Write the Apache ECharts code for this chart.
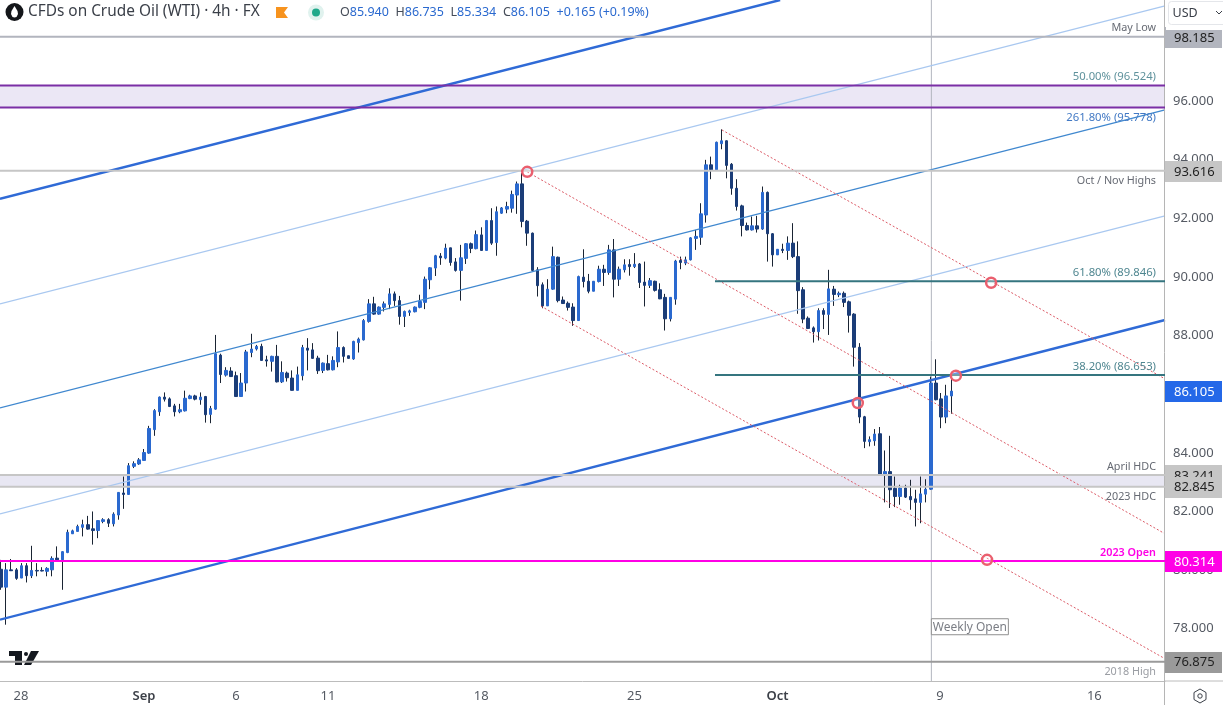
<!DOCTYPE html>
<html>
<head>
<meta charset="utf-8">
<title>CFDs on Crude Oil (WTI)</title>
<script src="https://cdn.jsdelivr.net/npm/echarts@6/dist/echarts.min.js"></script>
<style>
  html, body { margin: 0; padding: 0; background: #fff; }
  #chart { width: 1223px; height: 705px; }
</style>
</head>
<body>
<div id="chart"></div>
<script>
// 4h bars: open, close, low, high
const candles = [
  [80.03,79.42,79.33,80.35],[79.42,80.01,78.14,80.24],[80.01,79.98,79.97,80.38],[80.01,79.72,79.67,80.07],
  [79.73,80.15,79.73,80.24],[80.15,79.81,79.58,80.24],[79.81,79.99,79.73,80.83],[79.99,79.97,79.79,80.24],
  [79.99,79.97,79.96,80.10],[79.96,80.06,79.79,80.10],[80.01,80.40,79.79,80.47],[80.41,80.35,80.35,80.81],
  [80.35,80.63,79.33,80.64],[80.60,81.29,80.58,81.38],[81.24,81.34,81.24,81.38],[81.32,81.49,81.32,81.55],
  [81.46,81.55,81.15,81.72],[81.55,81.40,81.38,81.85],[81.41,81.35,80.87,82.00],[81.35,81.69,81.09,81.69],
  [81.66,81.72,81.60,81.77],[81.72,81.60,81.47,81.77],[81.58,81.91,81.49,81.97],[81.88,82.65,81.72,82.66],
  [82.63,82.58,82.09,83.19],[82.58,83.56,82.57,83.65],[83.54,83.63,83.48,83.71],[83.62,83.76,83.59,83.82],
  [83.74,84.01,83.74,84.13],[83.99,84.83,83.97,84.92],[84.79,85.44,84.58,85.49],[85.40,85.90,85.26,85.92],
  [85.90,85.83,85.75,86.06],[85.84,85.58,85.56,85.89],[85.60,85.40,85.24,85.67],[85.40,85.47,85.35,85.67],
  [85.43,85.86,85.41,86.12],[85.85,85.94,85.83,85.98],[85.94,85.83,85.79,85.98],[85.81,85.90,85.64,86.06],
  [85.92,85.30,85.03,85.94],[85.31,85.51,85.01,85.60],[85.49,87.38,85.47,88.02],[87.33,86.67,86.38,87.38],
  [86.65,86.81,86.60,86.92],[86.79,86.60,86.60,86.92],[86.63,85.92,85.92,86.77],[85.92,86.38,85.92,86.72],
  [86.38,87.44,86.09,87.51],[87.42,87.54,87.26,88.06],[87.54,87.63,87.49,87.68],[87.63,87.15,87.15,87.72],
  [87.17,87.13,86.94,87.31],[87.12,87.29,86.77,87.31],[87.29,86.42,86.40,87.68],[86.42,86.74,86.38,87.12],
  [86.72,86.56,86.43,86.77],[86.55,86.13,86.13,86.81],[86.13,86.66,86.13,86.94],[86.63,87.59,86.47,87.68],
  [87.57,87.50,86.81,87.91],[87.51,87.22,87.22,87.74],[87.23,86.80,86.69,87.31],[86.81,87.06,86.72,87.08],
  [87.04,86.83,86.81,87.34],[86.83,87.15,86.81,87.29],[87.10,87.59,86.92,88.14],[87.59,87.29,87.08,87.63],
  [87.31,87.22,87.22,87.31],[87.20,87.80,87.17,87.82],[87.76,87.88,87.42,87.93],[87.85,88.51,87.83,88.56],
  [88.48,89.08,88.44,89.24],[89.08,88.73,88.71,89.32],[88.73,88.97,88.71,88.99],[88.96,89.08,88.82,89.16],
  [89.06,89.42,88.90,89.61],[89.42,89.19,89.01,89.50],[89.19,88.65,88.37,89.35],[88.65,88.82,88.29,88.85],
  [88.79,88.84,88.67,88.88],[88.81,88.97,88.79,88.99],[88.96,89.16,88.93,89.39],[89.13,89.92,88.90,90.01],
  [89.90,90.31,89.58,90.33],[90.30,90.72,90.03,90.75],[90.71,90.65,90.41,90.81],[90.64,90.98,90.60,91.13],
  [90.99,90.49,90.38,90.99],[90.51,90.22,90.18,90.64],[90.22,90.65,89.19,91.09],[90.63,91.13,90.44,91.15],
  [91.13,90.97,90.81,91.17],[90.96,91.44,90.94,91.58],[91.43,90.90,90.89,91.69],[90.90,91.92,90.89,91.94],
  [91.92,91.15,91.09,92.34],[91.17,92.22,90.72,92.40],[92.17,92.35,92.15,92.38],[92.31,92.40,92.17,92.56],
  [92.34,92.81,92.19,92.94],[92.79,93.17,92.15,93.25],[93.17,91.89,91.69,93.54],[91.90,91.49,91.06,91.94],
  [91.49,90.22,90.20,91.51],[90.24,89.70,89.33,90.33],[89.73,89.01,88.93,89.81],[89.01,89.58,89.01,89.92],
  [89.58,90.69,89.56,91.03],[90.67,89.19,89.13,90.69],[89.21,89.09,89.08,89.33],[89.10,88.96,88.85,89.16],
  [88.97,88.51,88.33,89.10],[88.51,90.01,88.50,90.04],[89.99,89.84,89.64,90.94],[89.85,89.51,89.44,90.10],
  [89.51,89.85,89.51,89.85],[89.84,90.26,89.81,90.38],[90.26,90.15,89.69,90.41],[90.15,90.92,90.07,91.09],
  [90.92,89.92,89.30,91.29],[89.92,90.26,89.69,90.35],[90.24,90.41,90.15,90.60],[90.42,90.35,90.04,90.60],
  [90.35,90.43,90.30,90.81],[90.44,89.81,89.62,90.47],[89.82,89.71,88.99,90.52],[89.71,89.87,89.62,89.96],
  [89.85,89.54,89.50,89.87],[89.56,89.25,89.24,89.78],[89.30,88.57,88.17,89.42],[88.57,89.30,88.48,89.30],
  [89.24,90.54,89.05,90.58],[90.56,90.49,90.26,90.69],[90.47,90.58,90.40,90.69],[90.58,91.33,90.56,91.35],
  [91.31,91.38,90.92,91.60],[91.35,92.15,91.09,92.51],[92.11,93.82,91.85,93.99],[93.82,93.65,93.33,94.10],
  [93.65,94.59,93.65,94.61],[94.54,94.64,94.35,95.03],[94.64,93.80,93.36,94.65],[93.84,93.02,92.80,93.88],
  [93.02,92.40,92.26,93.33],[92.42,91.75,91.38,92.46],[91.75,91.60,91.58,91.85],[91.60,91.74,91.58,92.06],
  [91.74,91.63,91.51,92.08],[91.63,92.88,91.60,93.08],[92.88,91.47,90.52,92.91],[91.47,90.75,90.35,91.49],
  [90.75,90.94,90.75,90.94],[90.94,90.90,90.81,91.13],[90.90,91.15,90.58,91.38],[91.15,90.69,90.64,91.83],
  [90.69,89.53,88.74,91.21],[89.56,88.56,88.42,89.65],[88.59,88.24,88.22,88.65],[88.26,88.13,87.76,88.31],
  [88.13,88.85,87.83,88.93],[88.85,88.72,88.22,88.93],[88.72,89.59,88.02,90.24],[89.58,89.40,89.01,89.69],
  [89.39,89.44,89.31,89.50],[89.44,89.13,88.97,89.50],[89.15,88.69,88.10,89.19],[88.73,87.60,86.94,88.76],
  [87.60,85.22,85.01,87.74],[85.23,84.39,84.16,85.26],[84.38,84.45,84.22,84.56],[84.41,84.64,84.24,84.81],
  [84.65,83.25,83.25,84.88],[83.25,83.36,82.31,84.08],[83.36,82.74,82.12,84.58],[82.79,82.51,82.15,83.19],
  [82.51,82.80,82.23,82.91],[82.80,82.49,82.46,82.91],[82.51,82.40,82.06,83.08],[82.43,82.31,81.49,82.74],
  [82.31,82.60,81.60,83.19],[82.59,82.76,82.31,83.10],[82.76,86.38,82.74,86.60],[86.38,85.81,85.79,87.19],
  [85.84,85.22,84.84,86.04],[85.22,85.94,85.01,86.32],[85.94,86.105,85.334,86.735]
];

const xTickValues = [3.9, 28, 46, 64, 94, 124, 152, 183.8, 214];
const xTickLabels = ['28', 'Sep', '6', '11', '18', '25', 'Oct', '9', '16'];
const yTickValues = [78, 80, 82, 84, 86, 88, 90, 92, 94, 96];

// horizontal levels
const levelValues = [98.185, 96.524, 95.778, 93.616, 89.846, 86.653, 83.241, 82.845, 80.314, 76.875];
const levelStarts = [null, null, null, null, 139.75, 139.75, null, null, null, null];
const levelColors = ['#b2b5be', '#7b2fa5', '#7b2fa5', '#c6c6c6', '#35757f', '#35757f', '#c6c6c6', '#c6c6c6', '#ff00e6', '#9a9a9a'];

const noteAnchors = [98.185, 96.524, 95.778, 93.616, 89.846, 86.653, 83.241, 82.845, 80.314, 76.875];
const noteTexts = ['May Low', '50.00% (96.524)', '261.80% (95.778)', 'Oct / Nov Highs', '61.80% (89.846)', '38.20% (86.653)', 'April HDC', '2023 HDC', '2023 Open', '2018 High'];
const noteSides = [-1, -1, 1, 1, -1, -1, -1, 1, -1, 1];
const noteColors = ['#666a73', '#5f929c', '#4279c4', '#666a73', '#4f8690', '#4f8690', '#666a73', '#666a73', '#ff00e6', '#9a9da3'];
const noteSizes = [10.8, 11.3, 11.3, 10.8, 11.3, 11.3, 10.8, 10.8, 10.8, 10.8];

const tagValues = [98.185, 93.616, 83.241, 82.845, 86.105, 80.314, 76.875];
const tagFills = ['#b2b5be', '#c6c6c6', '#c6c6c6', '#c6c6c6', '#2468e8', '#ff00e6', '#9a9a9a'];
const tagInks = ['#222', '#222', '#222', '#222', '#fff', '#fff', '#222'];

const zones = [[96.524, 95.778, '#ebe7f5'], [83.241, 82.845, '#e8e7f3']];

// channel lines, [bar index, price] end points
const channelLines = [
  { pts: [[-0.2, 92.66], [152.5, 99.44]], color: '#2f6ad6', width: 2.4 },
  { pts: [[-0.2, 89.08], [227.83, 99.24]], color: '#a9c8f0', width: 1.2 },
  { pts: [[-0.2, 85.53], [227.83, 95.69]], color: '#4088cf', width: 1.3 },
  { pts: [[-0.2, 81.92], [227.83, 92.08]], color: '#a9c8f0', width: 1.2 },
  { pts: [[-0.2, 78.31], [227.83, 88.53]], color: '#2f6ad6', width: 2.4 }
];
const pitchLines = [
  [[103, 93.58], [227.83, 81.24]],
  [[141.1, 95.01], [227.83, 86.52]],
  [[105.7, 89.0], [227.83, 76.98]]
];
const touchPoints = [[103, 93.58], [167.7, 85.7], [186.9, 86.63], [193.8, 89.8], [193, 80.35]];

const weeklyOpenBar = 182.1;
const weeklyOpenPrice = 78.07;

const xMin = -0.196, xMax = 227.83;
const yMin = 76.22, yMax = 99.44;
const fontName = '"Noto Sans", "Open Sans", sans-serif';
const upColor = '#2a69cf', downColor = '#1b3d78', wickColor = '#1a2433';

const chart = echarts.init(document.getElementById('chart'));

function renderZone(params, api) {
  const z = zones[api.value(0)];
  const a = api.coord([xMin, z[0]]);
  const b = api.coord([xMax, z[1]]);
  return { type: 'rect', shape: { x: a[0], y: a[1], width: b[0] - a[0], height: b[1] - a[1] }, style: { fill: z[2] } };
}

function renderLevel(params, api) {
  const i = api.value(0);
  const start = levelStarts[i] === null ? xMin : levelStarts[i];
  const a = api.coord([start, levelValues[i]]);
  const b = api.coord([xMax, levelValues[i]]);
  return { type: 'line', shape: { x1: a[0], y1: a[1], x2: b[0], y2: b[1] }, style: { stroke: levelColors[i], lineWidth: 2 } };
}

function renderNote(params, api) {
  const i = api.value(0);
  const p = api.coord([xMax, noteAnchors[i]]);
  return {
    type: 'text',
    style: {
      x: p[0] - 9, y: p[1] + (noteSides[i] < 0 ? -8.5 : 10), text: noteTexts[i], align: 'right', verticalAlign: 'middle',
      fill: noteColors[i], font: (i === 8 ? '600 ' : '') + noteSizes[i] + 'px ' + fontName
    }
  };
}

function renderTag(params, api) {
  const i = api.value(0);
  const p = api.coord([xMax, tagValues[i]]);
  return {
    type: 'group',
    children: [
      { type: 'rect', shape: { x: p[0], y: Math.round(p[1]) - 10, width: 57, height: 21 }, style: { fill: tagFills[i] } },
      { type: 'text', style: { x: p[0] + 9, y: p[1] + 1, text: tagValues[i].toFixed(3), verticalAlign: 'middle', fill: tagInks[i], font: '13px ' + fontName } }
    ]
  };
}

function renderWeeklyOpen(params, api) {
  const top = api.coord([weeklyOpenBar, yMax]);
  const bottom = api.coord([weeklyOpenBar, yMin]);
  const box = api.coord([weeklyOpenBar, weeklyOpenPrice]);
  return {
    type: 'group',
    children: [
      { type: 'line', shape: { x1: top[0], y1: top[1], x2: bottom[0], y2: bottom[1] }, style: { stroke: '#b2b5be', lineWidth: 1 } },
      { type: 'rect', shape: { x: box[0], y: box[1] - 8, width: 77, height: 16 }, style: { fill: '#fff', stroke: '#8f8f8f', lineWidth: 1 } },
      { type: 'text', style: { x: box[0] + 38.5, y: box[1] + 0.5, text: 'Weekly Open', align: 'center', verticalAlign: 'middle', fill: '#7b7e85', font: '12px ' + fontName } }
    ]
  };
}

function overlaySeries(count, renderItem, z) {
  const ids = [];
  for (let i = 0; i < count; i++) ids.push([i]);
  return { type: 'custom', renderItem: renderItem, data: ids, z: z, silent: true, encode: { x: -1, y: -1 } };
}

const wickData = candles.map((c, i) => [i, c[0], c[1], c[2], c[3]]);
const bodyData = candles.map((c, i) => [i, c[0], c[1], Math.min(c[0], c[1]), Math.max(c[0], c[1])]);

const series = [
  overlaySeries(zones.length, renderZone, 1),
  overlaySeries(1, renderWeeklyOpen, 1),
  {
    type: 'candlestick', data: wickData, z: 2, barWidth: 1, silent: true, encode: { x: 0, y: [1, 2, 3, 4] },
    itemStyle: { color: wickColor, color0: wickColor, borderColor: wickColor, borderColor0: wickColor, borderWidth: 1 }
  },
  {
    type: 'candlestick', data: bodyData, z: 2, barWidth: 3, silent: true, encode: { x: 0, y: [1, 2, 3, 4] },
    itemStyle: { color: upColor, color0: downColor, borderColor: upColor, borderColor0: downColor, borderWidth: 1 }
  }
];

channelLines.forEach(l => {
  series.push({
    type: 'line', data: l.pts, z: 3, silent: true, showSymbol: false, clip: true,
    lineStyle: { color: l.color, width: l.width }
  });
});
pitchLines.forEach(pts => {
  series.push({
    type: 'line', data: pts, z: 3, silent: true, showSymbol: false, clip: true,
    lineStyle: { color: '#dc5a66', width: 1, type: [2, 2] }
  });
});
series.push(overlaySeries(levelValues.length, renderLevel, 4));
series.push(overlaySeries(noteTexts.length, renderNote, 4));
series.push(overlaySeries(tagValues.length, renderTag, 5));
series.push({
  type: 'scatter', data: touchPoints, z: 6, silent: true, symbol: 'circle', symbolSize: 10,
  itemStyle: { color: 'rgba(255,255,255,0.3)', borderColor: '#ea5f6e', borderWidth: 2.5, opacity: 1 }
});

const headerRich = {
  k: { fill: '#444b57', fontSize: 12.5, fontFamily: fontName },
  v: { fill: '#2a69cf', fontSize: 12.5, fontFamily: fontName }
};

chart.setOption({
  animation: false,
  backgroundColor: '#fff',
  grid: { left: 0, top: 0, width: 1165, height: 681, containLabel: false },
  xAxis: {
    type: 'value', min: xMin, max: xMax, splitLine: { show: false },
    axisLine: { show: true, onZero: false, lineStyle: { color: '#bcbcbc' } }, axisTick: { show: false },
    axisLabel: {
      customValues: xTickValues, margin: 9, fontSize: 13, fontFamily: fontName, color: '#555a63',
      formatter: v => {
        const text = xTickLabels[xTickValues.indexOf(v)];
        return text === 'Sep' || text === 'Oct' ? '{m|' + text + '}' : text;
      },
      rich: { m: { fontSize: 13, fontFamily: fontName, fontWeight: 600, color: '#3c4048' } }
    }
  },
  yAxis: {
    type: 'value', position: 'right', min: yMin, max: yMax, splitLine: { show: false },
    axisLine: { show: false }, axisTick: { show: false },
    axisLabel: {
      customValues: yTickValues, margin: 8, fontSize: 13, fontFamily: fontName, color: '#555a63', padding: [2, 0, 0, 0],
      formatter: v => v.toFixed(3)
    }
  },
  graphic: [
    // price scale border runs the full height, time scale border runs the full width
    { type: 'line', silent: true, z: 4, shape: { x1: 1165, y1: 681, x2: 1223, y2: 681 }, style: { stroke: '#bcbcbc', lineWidth: 1 } },
    { type: 'line', silent: true, z: 4, shape: { x1: 1164.5, y1: 0, x2: 1164.5, y2: 705 }, style: { stroke: '#b5b5b5', lineWidth: 1 } },
    // header
    { type: 'circle', silent: true, shape: { cx: 14.5, cy: 12, r: 9 }, style: { fill: '#14161a' } },
    { type: 'polygon', silent: true, shape: { points: [[14.5, 6], [17.5, 11], [18, 14], [16.5, 17], [14.5, 17.5], [12.5, 17], [11, 14], [11.5, 11]] }, style: { fill: '#fff' } },
    { type: 'text', silent: true, style: { x: 28, y: 12, text: 'CFDs on Crude Oil (WTI) · 4h · FX', verticalAlign: 'middle', fill: '#3a3f48', font: '15.4px ' + fontName } },
    { type: 'polygon', silent: true, shape: { points: [[276, 7], [288, 7], [284, 12.5], [288, 18], [276, 18]] }, style: { fill: '#f7931e' } },
    { type: 'circle', silent: true, shape: { cx: 316, cy: 12.5, r: 8 }, style: { fill: '#e0f2ee' } },
    { type: 'circle', silent: true, shape: { cx: 316, cy: 12.5, r: 4 }, style: { fill: '#1fa88a' } },
    {
      type: 'text', silent: true,
      style: {
        x: 340, y: 12, verticalAlign: 'middle',
        text: '{k|O}{v|85.940}  {k|H}{v|86.735}  {k|L}{v|85.334}  {k|C}{v|86.105}  {v|+0.165 (+0.19%)}',
        rich: headerRich
      }
    },
    // currency box sits over the top of the first price tag
    { type: 'rect', silent: true, z: 10, shape: { x: 1166, y: 0, width: 57, height: 30 }, style: { fill: '#fff' } },
    { type: 'rect', silent: true, z: 10, shape: { x: 1168.5, y: 1.5, width: 60, height: 23, r: 3 }, style: { fill: '#fff', stroke: '#e4e6ea', lineWidth: 1 } },
    { type: 'text', silent: true, z: 10, style: { x: 1172.5, y: 13, text: 'USD', verticalAlign: 'middle', fill: '#3a3f48', font: '12.5px ' + fontName } },
    { type: 'polyline', silent: true, z: 10, shape: { points: [[1216, 11], [1219, 14], [1222, 11]] }, style: { fill: 'none', stroke: '#3a3f48', lineWidth: 1 } },
    // tradingview mark
    { type: 'polygon', silent: true, shape: { points: [[9, 651], [22, 651], [22, 665], [15, 665], [15, 656], [9, 656]] }, style: { fill: '#14181f' } },
    { type: 'circle', silent: true, shape: { cx: 26, cy: 654, r: 2 }, style: { fill: '#14181f' } },
    { type: 'polygon', silent: true, shape: { points: [[31, 651], [39, 651], [31, 665], [24, 665]] }, style: { fill: '#14181f' } },
    // settings icon
    { type: 'polygon', silent: true, shape: { points: [[1200, 689], [1206, 692.5], [1206, 699.5], [1200, 703], [1194, 699.5], [1194, 692.5]] }, style: { fill: 'none', stroke: '#3a3f48', lineWidth: 1 } },
    { type: 'circle', silent: true, shape: { cx: 1200, cy: 696, r: 2.2 }, style: { fill: 'none', stroke: '#3a3f48', lineWidth: 1 } }
  ],
  series: series
});
</script>
</body>
</html>
